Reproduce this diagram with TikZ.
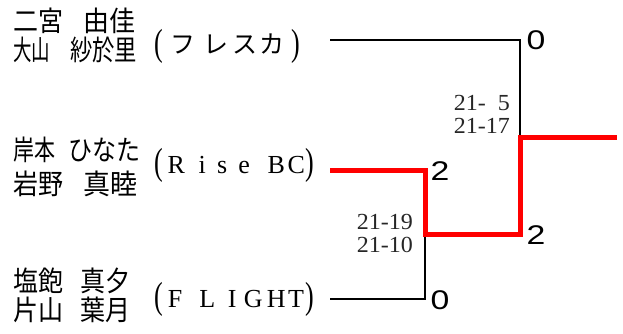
\documentclass[tikz,border=0pt]{standalone}
\usepackage{fontspec}
\usepackage{graphicx}
\newfontfamily\jp{Noto Sans CJK JP}
\newfontfamily\scfont{Liberation Serif}
\newfontfamily\numfont{Liberation Sans}
\newcommand\fitw[2]{\resizebox{#1}{\height}{#2}}
% two-part name: width1, text1, gap, width2, text2
\newcommand\nm[5]{\fitw{#1}{#2}\hspace{#3}\fitw{#4}{#5}}
% glyph centred at a position
\newcommand\gc[1]{\makebox[0pt]{#1}}
\newcommand\tp[1]{\raisebox{-1pt}{\scalebox{1}[1.45]{#1}}}
\begin{document}
\begin{tikzpicture}[x=1pt,y=-1pt,
  namebox/.style={anchor=west,inner sep=0pt,font=\jp\fontsize{28}{28}\selectfont},
  teambox/.style={anchor=base west,inner sep=0pt},
  gamescore/.style={anchor=east,inner sep=0pt,font=\scfont\fontsize{23}{23}\selectfont,text=black!85},
  setcount/.style={anchor=center,inner sep=0pt,font=\numfont\fontsize{27}{27}\selectfont},
  loseline/.style={draw=black,line width=1.1pt},
  winline/.style={draw=red,line width=5pt}]
\useasboundingbox (0,0) rectangle (623,334);
% names
\node[namebox] (n1a) at (13,21) {\nm{50pt}{二宮}{20pt}{52pt}{由佳}};
\node[namebox] (n1b) at (13,50) {\nm{37pt}{大山}{20pt}{67pt}{紗於里}};
\node[namebox] (n2a) at (13,150) {\nm{42pt}{岸本}{13pt}{72pt}{ひなた}};
\node[namebox] (n2b) at (13,184) {\nm{50pt}{岩野}{20pt}{54pt}{真睦}};
\node[namebox] (n3a) at (13,281) {\nm{50pt}{塩飽}{17pt}{50pt}{真夕}};
\node[namebox] (n3b) at (13,310) {\nm{50pt}{片山}{17pt}{50pt}{葉月}};
% teams
\node[teambox] (t1) at (152,54) {\makebox[160pt][l]{\scfont\fontsize{26}{26}\selectfont
  \kern7pt\gc{\raisebox{-1pt}{\tp{(}}}\kern24pt{\jp\fontsize{25}{25}\selectfont\gc{フ}\kern33pt\gc{レ}\kern29pt\gc{ス}\kern27pt\gc{カ}}\kern24pt\gc{\raisebox{-1pt}{\tp{)}}}}};
\node[teambox] (t2) at (152,173) {\makebox[162pt][l]{\scfont\fontsize{26}{26}\selectfont
  \kern7pt\gc{\tp{(}}\kern17pt\gc{R}\kern26pt\gc{i}\kern20pt\gc{s}\kern22pt\gc{e}\kern32pt\gc{B}\kern20pt\gc{C}\kern14pt\gc{\tp{)}}}};
\node[teambox] (t3) at (152,307) {\makebox[162pt][l]{\scfont\fontsize{26}{26}\selectfont
  \kern7pt\gc{\tp{(}}\kern16pt\gc{F}\kern32pt\gc{L}\kern25pt\gc{I}\kern21pt\gc{G}\kern23pt\gc{H}\kern20pt\gc{T}\kern14pt\gc{\tp{)}}}};
% bracket coordinates
\coordinate (a1) at (330,40);
\coordinate (a2) at (520,40);
\coordinate (m) at (520,137);
\coordinate (w) at (617,137);
\coordinate (b1) at (330,170);
\coordinate (b2) at (425,170);
\coordinate (s) at (425,234);
\coordinate (s2) at (520,234);
\coordinate (c1) at (330,299);
\coordinate (c2) at (425,299);
\draw[loseline] (a1) -- (a2) -- (m);
\draw[loseline] (c1) -- (c2) -- (s);
\draw[winline,line join=miter] (b1) -- (b2) -- (s) -- (s2) -- (m) -- (w);
% set counts
\node[setcount] (p1) at (536,40) {\scalebox{1.25}[1]{0}};
\node[setcount] (p2) at (440,171) {\scalebox{1.25}[1]{2}};
\node[setcount] (p3) at (536,235) {\scalebox{1.25}[1]{2}};
\node[setcount] (p4) at (440,300) {\scalebox{1.25}[1]{0}};
% game scores
\node[gamescore] (g1) at (510,103) {\fitw{56pt}{21-\hphantom{1}5}};
\node[gamescore] (g2) at (510,126) {\fitw{56pt}{21-17}};
\node[gamescore] (g3) at (413,222) {\fitw{56pt}{21-19}};
\node[gamescore] (g4) at (413,245) {\fitw{56pt}{21-10}};
\end{tikzpicture}
\end{document}
